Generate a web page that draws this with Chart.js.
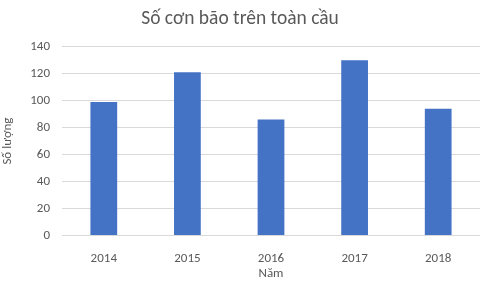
<!DOCTYPE html>
<html lang="vi">
<head>
<meta charset="UTF-8">
<title>Số cơn bão trên toàn cầu</title>
<script src="https://cdn.jsdelivr.net/npm/chart.js"></script>
<style>
  html, body { margin: 0; padding: 0; background: #fff; }
  .chart-container { width: 485px; height: 282px; }
</style>
</head>
<body>
<div class="chart-container">
  <canvas id="stormChart"></canvas>
</div>
<script>
  // data
  const years = ['2014', '2015', '2016', '2017', '2018'];
  const stormCounts = [99, 121, 86, 130, 94];

  const textColor = '#595959';
  const fontFamily = "Carlito, 'Open Sans', 'Noto Sans', sans-serif";

  const ctx = document.getElementById('stormChart').getContext('2d');
  new Chart(ctx, {
    type: 'bar',
    data: {
      labels: years,
      datasets: [{
        label: 'Số lượng',
        data: stormCounts,
        backgroundColor: '#4472C4',
        borderWidth: 0,
        categoryPercentage: 1,
        barPercentage: 0.32
      }]
    },
    options: {
      responsive: true,
      maintainAspectRatio: false,
      animation: false,
      layout: { padding: { left: 0, right: 5, top: 0, bottom: 0 } },
      scales: {
        x: {
          grid: { display: false },
          border: { display: false },
          ticks: {
            color: textColor,
            font: { family: fontFamily, size: 13 },
            padding: 7
          },
          title: {
            display: true,
            text: 'Năm',
            color: textColor,
            font: { family: fontFamily, size: 13 },
            padding: { top: 1, bottom: 0 }
          },
          afterFit: function(scale) { scale.height = 46.5; }
        },
        y: {
          min: 0,
          max: 140,
          ticks: {
            stepSize: 20,
            color: textColor,
            font: { family: fontFamily, size: 13 },
            padding: 12
          },
          grid: { color: '#d9d9d9', drawTicks: false },
          border: { display: false },
          title: {
            display: true,
            text: 'Số lượng',
            color: textColor,
            font: { family: fontFamily, size: 13 },
            padding: { top: 0, bottom: 4 }
          },
          afterFit: function(scale) { scale.width = 62; }
        }
      },
      plugins: {
        legend: { display: false },
        tooltip: { enabled: false },
        title: {
          display: true,
          text: 'Số cơn bão trên toàn cầu',
          color: textColor,
          font: { family: fontFamily, size: 19.5, weight: 'normal' },
          padding: { top: 7, bottom: 16.3 }
        }
      }
    }
  });
</script>
</body>
</html>
